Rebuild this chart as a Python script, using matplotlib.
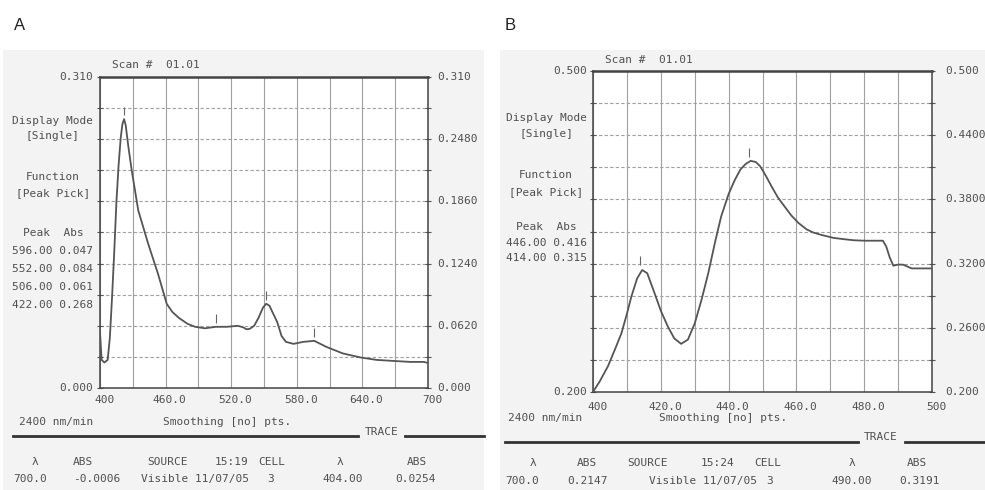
import numpy as np
import matplotlib
matplotlib.use('Agg')
import matplotlib.pyplot as plt
from matplotlib import font_manager
from matplotlib.patches import Rectangle
from matplotlib.lines import Line2D

W, H = 985, 490

# panel A: scan 400-700 nm
a_nm = [400, 401.5, 404, 407, 409, 411, 413, 415, 417, 419, 420.5, 422, 423.5,
        426, 429, 435, 444, 453, 461, 466, 472, 480, 487, 496, 506, 516, 526,
        531, 534, 537, 541, 545, 549, 552, 555, 558, 562, 566, 570, 577, 586,
        596, 607, 622, 638, 653, 668, 684, 696, 700]
a_abs = [0.055, 0.028, 0.0254, 0.028, 0.050, 0.090, 0.135, 0.185, 0.222, 0.250,
         0.263, 0.268, 0.262, 0.240, 0.217, 0.177, 0.144, 0.114, 0.084, 0.076,
         0.070, 0.064, 0.061, 0.0595, 0.061, 0.061, 0.062, 0.0605, 0.0585,
         0.059, 0.062, 0.070, 0.080, 0.084, 0.082, 0.075, 0.066, 0.052, 0.046,
         0.044, 0.046, 0.047, 0.041, 0.0345, 0.0305, 0.028, 0.027, 0.026,
         0.026, 0.025]
a_peak_nm = [596.0, 552.0, 506.0, 422.0]
a_peak_abs = [0.047, 0.084, 0.061, 0.268]
a_xticks = [400, 460, 520, 580, 640, 700]
a_xlabels = ['400', '460.0', '520.0', '580.0', '640.0', '700']
a_yticks = [0.310, 0.248, 0.186, 0.124, 0.062, 0.000]
a_ylabels = ['0.310', '0.2480', '0.1860', '0.1240', '0.0620', '0.000']
a_head = ['\u03bb', 'ABS', 'SOURCE', '15:19', 'CELL', '\u03bb', 'ABS']
a_vals = ['700.0', '-0.0006', 'Visible 11/07/05', '3', '404.00', '0.0254']

# panel B: scan 400-500 nm
b_nm = [400, 402, 404.4, 406.5, 408.4, 410, 411.3, 413, 414.5, 416, 418.2, 420,
        422.1, 424, 426, 428, 430, 432, 434, 436, 437.8, 440, 441.8, 443.5,
        445, 446.5, 448, 449.3, 451, 452.7, 454.5, 456.6, 458.5, 460.6, 463,
        465, 467.5, 471, 474.3, 477, 480, 483, 485.5, 486.5, 487.5, 488.6,
        490, 491.5, 494, 497, 500]
b_abs = [0.200, 0.210, 0.224, 0.240, 0.255, 0.273, 0.289, 0.306, 0.314, 0.311,
         0.292, 0.276, 0.261, 0.250, 0.245, 0.249, 0.264, 0.286, 0.311, 0.340,
         0.364, 0.385, 0.398, 0.408, 0.413, 0.416, 0.415, 0.411, 0.402, 0.392,
         0.382, 0.373, 0.365, 0.358, 0.352, 0.349, 0.3467, 0.344, 0.3427,
         0.3418, 0.3414, 0.3414, 0.3414, 0.336, 0.326, 0.318, 0.3191, 0.319,
         0.3155, 0.3155, 0.3155]
b_peak_nm = [446.0, 414.0]
b_peak_abs = [0.416, 0.315]
b_xticks = [400, 420, 440, 460, 480, 500]
b_xlabels = ['400', '420.0', '440.0', '460.0', '480.0', '500']
b_yticks = [0.500, 0.440, 0.380, 0.320, 0.260, 0.200]
b_ylabels = ['0.500', '0.4400', '0.3800', '0.3200', '0.2600', '0.200']
b_head = ['\u03bb', 'ABS', 'SOURCE', '15:24', 'CELL', '\u03bb', 'ABS']
b_vals = ['700.0', '0.2147', 'Visible 11/07/05', '3', '490.00', '0.3191']

names = {f.name for f in font_manager.fontManager.ttflist}
if 'Liberation Sans Narrow' in names:
    FONT, FS = 'Liberation Sans Narrow', 10
else:
    FONT, FS = 'DejaVu Sans Mono', 8
INK = '#505050'
PX = 0.72  # points per pixel at dpi 100

fig = plt.figure(figsize=(W / 100, H / 100), dpi=100)
fig.patch.set_facecolor('white')


def fx(x):
    return x / W


def fy(y):
    return 1 - y / H


def txt(x, y, s, ha='center', **kw):
    fig.text(fx(x), fy(y), s, ha=ha, va='center', family=FONT, size=FS,
             color=INK, **kw)


def hline(x0, x1, y, lw=2.0):
    fig.add_artist(Line2D([fx(x0), fx(x1)], [fy(y), fy(y)], lw=lw,
                          color='#333333'))


def panel(box, nm, ab, xticks, xlabels, yticks, ylabels, pk_nm, pk_abs,
          lgap, rgap, xgap):
    l, t, r, b = box
    ax = fig.add_axes([fx(l), fy(b), (r - l) / W, (b - t) / H])
    ax.set_facecolor('white')
    x0, x1 = xticks[0], xticks[-1]
    y0, y1 = yticks[-1], yticks[0]
    ax.set_xlim(x0, x1)
    ax.set_ylim(y0, y1)
    ax.set_xticks(np.linspace(x0, x1, 11))
    ax.set_yticks(np.linspace(y0, y1, 11))
    ax.grid(axis='x', color='#a0a0a0', lw=0.8)
    ax.grid(axis='y', color='#a0a0a0', lw=0.8, ls=(0, (3, 2)))
    ax.tick_params(labelleft=False, labelbottom=False)
    ax.tick_params(axis='x', length=0)
    ax.tick_params(axis='y', left=True, right=True, direction='inout',
                   length=5, width=0.8, color='#555555')
    for sp in ax.spines.values():
        sp.set_color('#444444')
        sp.set_linewidth(1.1)
    ax.spines['top'].set_linewidth(1.8)

    ax.plot(nm, ab, color='#555555', lw=1.3, zorder=3)
    span = y1 - y0
    ax.vlines(pk_nm, np.array(pk_abs) + 0.012 * span,
              np.array(pk_abs) + 0.04 * span, color='#666666', lw=0.8)

    for v, s in zip(xticks, xlabels):
        ax.annotate(s, xy=(v, 0), xycoords=('data', 'axes fraction'),
                    xytext=(3, -xgap * PX), textcoords='offset points',
                    ha='center', va='center', family=FONT, size=FS, color=INK)
    for v, s in zip(yticks, ylabels):
        ax.annotate(s, xy=(1, v), xycoords=('axes fraction', 'data'),
                    xytext=(rgap * PX, 0), textcoords='offset points',
                    ha='left', va='center', family=FONT, size=FS, color=INK)
    for v, s in [(yticks[0], ylabels[0]), (yticks[-1], ylabels[-1])]:
        ax.annotate(s, xy=(0, v), xycoords=('axes fraction', 'data'),
                    xytext=(-lgap * PX, 0), textcoords='offset points',
                    ha='right', va='center', family=FONT, size=FS, color=INK)
    return ax


# scanned printout backgrounds
for x0, x1 in [(3, 484), (500, 985)]:
    fig.add_artist(Rectangle((fx(x0), fy(490)), (x1 - x0) / W, 440 / H,
                             transform=fig.transFigure, facecolor='#f3f3f3',
                             edgecolor='none', zorder=0))

fig.text(fx(20), fy(25), 'A', ha='center', va='center', size=12,
         family='Liberation Sans', color='#222222')
fig.text(fx(510), fy(25), 'B', ha='center', va='center', size=12,
         family='Liberation Sans', color='#222222')

# ---- panel A ----
panel((100, 77, 428, 388), a_nm, a_abs, a_xticks, a_xlabels, a_yticks,
      a_ylabels, a_peak_nm, a_peak_abs, lgap=7, rgap=9, xgap=12)
txt(112, 65, 'Scan #  01.01', ha='left')
txt(53, 121, 'Display Mode')
txt(53, 136, '[Single]')
txt(53, 177, 'Function')
txt(53, 193, '[Peak Pick]')
txt(53, 233, 'Peak  Abs')
for i, (p, v) in enumerate(zip(a_peak_nm, a_peak_abs)):
    txt(53, 251 + 18 * i, f'{p:.2f} {v:.3f}')
txt(56, 422, '2400 nm/min')
txt(227, 422, 'Smoothing [no] pts.')
hline(13, 358, 436)
txt(382, 432, 'TRACE')
hline(405, 484, 436)
for x, s in zip([35, 83, 168, 232, 272, 340, 417], a_head):
    txt(x, 462, s)
for x, s in zip([30, 97, 195, 271, 343, 415], a_vals):
    txt(x, 479, s)

# ---- panel B ----
panel((593, 71, 932, 392), b_nm, b_abs, b_xticks, b_xlabels, b_yticks,
      b_ylabels, b_peak_nm, b_peak_abs, lgap=6, rgap=13, xgap=15)
txt(605, 60, 'Scan #  01.01', ha='left')
txt(546, 118, 'Display Mode')
txt(546, 134, '[Single]')
txt(546, 175, 'Function')
txt(546, 192, '[Peak Pick]')
txt(546, 227, 'Peak  Abs')
for i, (p, v) in enumerate(zip(b_peak_nm, b_peak_abs)):
    txt(546, 243 + 15 * i, f'{p:.2f} {v:.3f}')
txt(545, 418, '2400 nm/min')
txt(723, 418, 'Smoothing [no] pts.')
hline(505, 858, 442)
txt(881, 437, 'TRACE')
hline(905, 985, 442)
for x, s in zip([533, 587, 647, 718, 768, 852, 917], b_head):
    txt(x, 463, s)
for x, s in zip([522, 588, 703, 770, 852, 920], b_vals):
    txt(x, 481, s)

fig.savefig('out.png', dpi=100)
